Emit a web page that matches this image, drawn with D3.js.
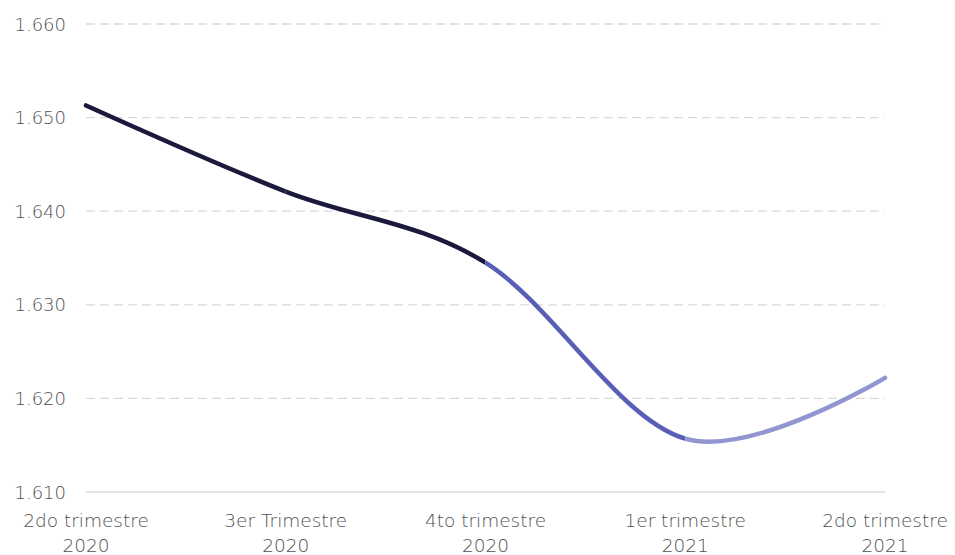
<!DOCTYPE html>
<html>
<head>
<meta charset="utf-8">
<script src="https://cdn.jsdelivr.net/npm/d3@7"></script>
<style>
  html, body { margin: 0; padding: 0; background: #ffffff; }
  svg { display: block; }
  text { font-family: "DejaVu Sans", sans-serif; font-weight: 200; fill: #4f4f4f; }
</style>
</head>
<body>
<svg id="chart" width="955" height="555"></svg>
<script>
const categories = [
  ["2do trimestre", "2020"],
  ["3er Trimestre", "2020"],
  ["4to trimestre", "2020"],
  ["1er trimestre", "2021"],
  ["2do trimestre", "2021"]
];
const values = [1.6513, 1.6421, 1.6345, 1.6157, 1.6222];
const segmentColors = ["#1b1a3c", "#1b1a3c", "#5a5fb6", "#9196d0"];
const yTicks = [1.610, 1.620, 1.630, 1.640, 1.650, 1.660];

(function () {
const svg = d3.select("#chart");
const plotLeft = 86, plotRight = 885, plotTop = 24, plotBottom = 492;

const x = d3.scalePoint().domain(d3.range(categories.length)).range([plotLeft, plotRight]);
const y = d3.scaleLinear().domain([1.610, 1.660]).range([plotBottom, plotTop]);

const fmt = d => d3.format(".3f")(d);

// gridlines
svg.append("g").selectAll("line")
  .data(yTicks.filter(t => t > 1.610))
  .join("line")
  .attr("x1", plotLeft).attr("x2", plotRight)
  .attr("y1", d => y(d)).attr("y2", d => y(d))
  .attr("stroke", "#d9d9d9").attr("stroke-width", 1.3)
  .attr("stroke-dasharray", "9,5");

// baseline axis
svg.append("line")
  .attr("x1", plotLeft).attr("x2", plotRight)
  .attr("y1", y(1.610)).attr("y2", y(1.610))
  .attr("stroke", "#d9d9d9").attr("stroke-width", 1.5);

// y labels
svg.append("g").selectAll("text")
  .data(yTicks)
  .join("text")
  .attr("x", 66).attr("y", d => y(d))
  .attr("text-anchor", "end")
  .attr("dominant-baseline", "central")
  .attr("font-size", 18)
  .text(d => fmt(d));

// x labels
const xl = svg.append("g").selectAll("text")
  .data(categories)
  .join("text")
  .attr("text-anchor", "middle")
  .attr("font-size", 18.5);
xl.append("tspan").attr("x", (d, i) => x(i)).attr("y", 527).text(d => d[0]);
xl.append("tspan").attr("x", (d, i) => x(i)).attr("y", 552).text(d => d[1]);

// line
const pts = values.map((v, i) => [x(i), y(v)]);
const lineGen = d3.line().curve(d3.curveCardinal.tension(0));
const pathD = lineGen(pts);

const defs = svg.append("defs");
segmentColors.forEach((c, i) => {
  const x0 = i === 0 ? 0 : x(i);
  const x1 = i === segmentColors.length - 1 ? 955 : x(i + 1);
  defs.append("clipPath").attr("id", "seg" + i)
    .append("rect")
    .attr("x", x0).attr("y", 0)
    .attr("width", x1 - x0).attr("height", 555);
  svg.append("path")
    .attr("d", pathD)
    .attr("fill", "none")
    .attr("stroke", c)
    .attr("stroke-width", 4.5)
    .attr("stroke-linecap", "round")
    .attr("clip-path", "url(#seg" + i + ")");
});
})();
</script>
</body>
</html>
